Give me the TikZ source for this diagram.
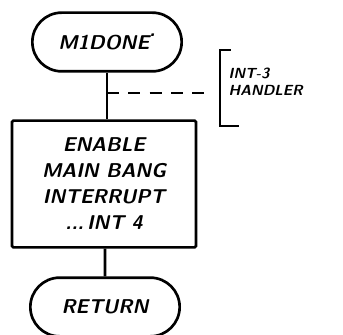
\documentclass[tikz,border=0pt]{standalone}
\usepackage{tikz}
\usetikzlibrary{positioning,shapes.misc}

\begin{document}
\begin{tikzpicture}[
    x=0.75pt, y=-0.75pt,
    every node/.style={align=center, font=\sffamily\itshape\bfseries\fontsize{15}{19.5}\selectfont},
    terminal/.style={rounded rectangle, draw=black, line width=2pt, minimum width=116pt, minimum height=44pt, inner sep=2pt},
    process/.style={rectangle, draw=black, line width=2pt, minimum width=138pt, minimum height=95pt, rounded corners=1pt},
    flow/.style={draw=black, line width=2pt},
    link/.style={draw=black, line width=2pt, dash pattern=on 9pt off 7pt},
    brace/.style={draw=black, line width=1.6pt}
]
    \useasboundingbox (0,0) rectangle (343,335);

    % Level 1: entry
    \node[terminal] (start) at (107,42) {M1DONE\raisebox{1.4ex}{.}};

    % Level 2: action
    \node[process] (enable) at (104,184) {ENABLE\\MAIN BANG\\INTERRUPT\\...\,INT 4};

    % Level 3: exit
    \node[terminal] (ret) at (105,307) {RETURN};

    % Side note
    \coordinate (tap) at (107,93);
    \coordinate (tapend) at (206,93);
    \coordinate (btop) at (220,50);
    \coordinate (bbot) at (220,126);
    \node[anchor=west, align=left, font=\sffamily\itshape\bfseries\fontsize{11}{13}\selectfont] (note) at (224,82) {INT-3\\HANDLER};

    % Draw connectors
    \draw[flow] (start) -- (start |- enable.north);
    \draw[flow] (enable.south -| ret) -- (ret);
    \draw[link] (tap) -- (tapend);
    \draw[brace] ([xshift=8]btop) -- (btop) -- (bbot) -- ([xshift=14]bbot);
\end{tikzpicture}
\end{document}
